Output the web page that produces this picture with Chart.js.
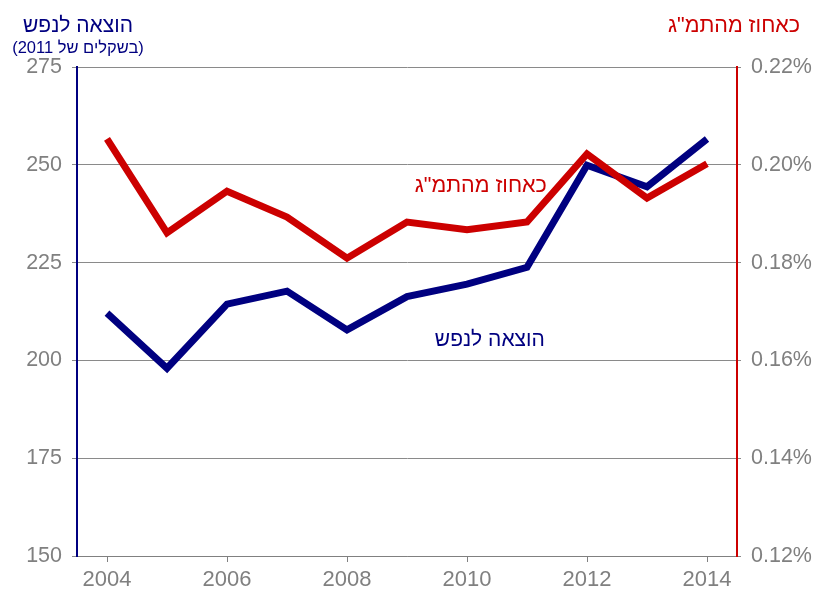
<!DOCTYPE html>
<html>
<head>
<meta charset="utf-8">
<script src="https://cdn.jsdelivr.net/npm/chart.js@4"></script>
<style>
  html, body { margin: 0; padding: 0; background: #fff; }
  #wrap { width: 819px; height: 592px; }
</style>
</head>
<body>
<div id="wrap"><canvas id="chart"></canvas></div>
<script>
/* data */
const years = [2004, 2005, 2006, 2007, 2008, 2009, 2010, 2011, 2012, 2013, 2014];
const spendPerCapita = [212.1, 198.0, 214.4, 217.7, 207.8, 216.3, 219.5, 223.8, 249.9, 244.4, 256.6];
const shareOfGdp = [0.2053, 0.1861, 0.1946, 0.1893, 0.1809, 0.1883, 0.1867, 0.1883, 0.2022, 0.1932, 0.2002];
const leftTicks = [150, 175, 200, 225, 250, 275];
const rightTicks = [0.12, 0.14, 0.16, 0.18, 0.20, 0.22];
const yearTicks = [2004, 2006, 2008, 2010, 2012, 2014];

const NAVY = '#000080';
const RED = '#cc0000';
const GRAY = '#808080';
const FONT = '"Liberation Sans", Arial, sans-serif';

function toPoints(values) {
  return years.map((y, i) => ({ x: y, y: values[i] }));
}

/* titles and in-chart labels */
const textPlugin = {
  id: 'texts',
  afterDraw(chart) {
    const ctx = chart.ctx;
    const x = chart.scales.x;
    const yL = chart.scales.yL;
    const yR = chart.scales.yR;
    ctx.save();
    ctx.direction = 'rtl';
    ctx.textAlign = 'center';
    ctx.textBaseline = 'middle';

    ctx.fillStyle = NAVY;
    ctx.font = '21px ' + FONT;
    ctx.fillText('הוצאה לנפש', 78, 26);
    ctx.font = '16.5px ' + FONT;
    ctx.fillText('(בשקלים של 2011)', 78, 48);

    ctx.fillStyle = RED;
    ctx.font = '21.5px ' + FONT;
    ctx.fillText('כאחוז מהתמ"ג', 734, 26);

    // labels next to the lines
    ctx.font = '21.5px ' + FONT;
    ctx.fillStyle = RED;
    ctx.fillText('כאחוז מהתמ"ג', x.getPixelForValue(2010.23), yR.getPixelForValue(0.1957));
    ctx.font = '21px ' + FONT;
    ctx.fillStyle = NAVY;
    ctx.fillText('הוצאה לנפש', x.getPixelForValue(2010.38), yL.getPixelForValue(205.2));
    ctx.restore();
  }
};

new Chart(document.getElementById('chart'), {
  type: 'line',
  data: {
    datasets: [
      {
        label: 'כאחוז מהתמ"ג',
        data: toPoints(shareOfGdp),
        yAxisID: 'yR',
        borderColor: RED,
        borderWidth: 7,
        pointRadius: 0,
        tension: 0,
        fill: false,
        order: 0
      },
      {
        label: 'הוצאה לנפש',
        data: toPoints(spendPerCapita),
        yAxisID: 'yL',
        borderColor: NAVY,
        borderWidth: 7,
        pointRadius: 0,
        tension: 0,
        fill: false,
        order: 1
      }
    ]
  },
  options: {
    responsive: true,
    maintainAspectRatio: false,
    animation: false,
    layout: { padding: { top: 67, left: 0, right: 0, bottom: 0 } },
    plugins: { legend: { display: false }, tooltip: { enabled: false } },
    scales: {
      x: {
        type: 'linear',
        min: 2003.5,
        max: 2014.5,
        afterBuildTicks: s => { s.ticks = yearTicks.map(v => ({ value: v })); },
        afterFit: s => { s.height = 36; },
        grid: { drawOnChartArea: false, drawTicks: true, tickLength: 6, color: GRAY },
        border: { color: GRAY, width: 1 },
        ticks: {
          color: GRAY,
          font: { family: FONT, size: 22 },
          padding: 5,
          autoSkip: false,
          maxRotation: 0,
          callback: v => String(v)
        }
      },
      yL: {
        position: 'left',
        min: 150,
        max: 275,
        afterBuildTicks: s => { s.ticks = leftTicks.map(v => ({ value: v })); },
        afterFit: s => { s.width = 77; },
        grid: { color: '#8a8a8a', tickLength: 5 },
        border: { color: NAVY, width: 2 },
        ticks: { color: GRAY, font: { family: FONT, size: 21.5 }, padding: 10 }
      },
      yR: {
        position: 'right',
        min: 0.12,
        max: 0.22,
        afterBuildTicks: s => { s.ticks = rightTicks.map(v => ({ value: v })); },
        afterFit: s => { s.width = 82; },
        grid: { drawOnChartArea: false, color: '#8a8a8a', tickLength: 4 },
        border: { color: RED, width: 2 },
        ticks: {
          color: GRAY,
          font: { family: FONT, size: 21.5 },
          padding: 10,
          callback: v => v.toFixed(2) + '%'
        }
      }
    }
  },
  plugins: [textPlugin]
});
</script>
</body>
</html>
